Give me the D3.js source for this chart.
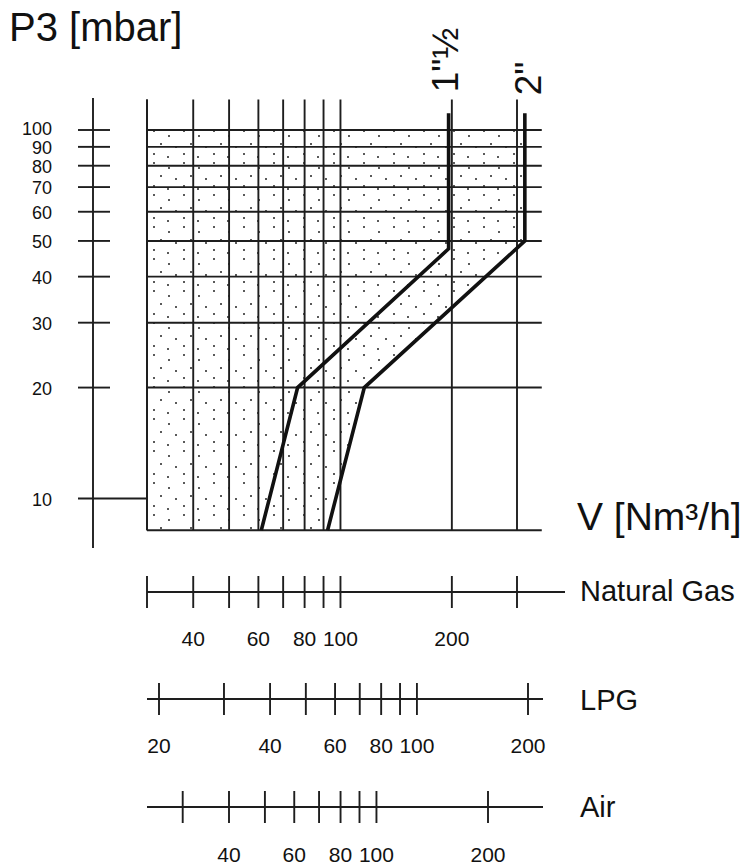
<!DOCTYPE html>
<html><head><meta charset="utf-8">
<script src="https://cdn.jsdelivr.net/npm/d3@7"></script>
<style>
html,body{margin:0;padding:0;background:#fff;}
svg text{font-family:"Liberation Sans",Arial,sans-serif;fill:#111;}
</style></head>
<body>
<svg id="chart" width="752" height="868"></svg>
<script>
// ---------- data ----------
const pressureTicks = [10, 20, 30, 40, 50, 60, 70, 80, 90, 100];   // mbar
const pressureGrid = [20, 30, 40, 50, 60, 70, 80, 90, 100];
const pressureRange = [8.2, 121];                                  // bottom / top of grid (mbar)
const flowGrid = [30, 40, 50, 60, 70, 80, 90, 100, 200, 300];     // Natural gas Nm3/h
const flowRange = [30, 350];
const curveNames = ['1"½', '2"'];
const curve1_5 = [{v:196,p:111},{v:196,p:47.6},{v:76.6,p:20},{v:61.1,p:8.2}];
const curve2 = [{v:315,p:111},{v:315,p:50},{v:116,p:20},{v:92.3,p:8.2}];
const shadeTop = 100;
const ngTicks = [30, 40, 50, 60, 70, 80, 90, 100, 200, 300];
const ngLabels = [40, 60, 80, 100, 200];
const lpgTicks = [20, 30, 40, 50, 60, 70, 80, 90, 100, 200];
const lpgLabels = [20, 40, 60, 80, 100, 200];
const airTicks = [30, 40, 50, 60, 70, 80, 90, 100, 200];
const airLabels = [40, 60, 80, 100, 200];

// ---------- scales ----------
const x = d3.scaleLog().domain([30, 300]).range([147, 517]);
const y = d3.scaleLog().domain([10, 100]).range([498.5, 130]);
const xLpg = d3.scaleLog().domain([20, 200]).range([159, 528]);
const xAir = d3.scaleLog().domain([40, 200]).range([229, 488]);

const svg = d3.select('#chart');
const ink = '#1e1e1e';

// dotted pattern
const defs = svg.append('defs');
const pat = defs.append('pattern').attr('id','dots').attr('patternUnits','userSpaceOnUse')
  .attr('width',30).attr('height',32);
[[4,3],[19,8],[11,16],[26,19],[4,26],[18,29]].forEach(([a,b])=>
  pat.append('circle').attr('cx',a).attr('cy',b).attr('r',1).attr('fill','#222'));
defs.append('clipPath').attr('id','shadeClip').append('rect')
  .attr('x', x(flowRange[0])).attr('y', y(shadeTop))
  .attr('width', x(flowRange[1]) - x(flowRange[0]))
  .attr('height', y(pressureRange[0]) - y(shadeTop));

// shaded region left of 2" curve
const area = d3.area().x0(x(flowRange[0])).x1(d=>x(d.v)).y(d=>y(d.p));
svg.append('path').datum(curve2).attr('d', area).attr('fill','url(#dots)')
  .attr('clip-path','url(#shadeClip)');

// grid
const g = svg.append('g').attr('stroke', ink).attr('stroke-width', 1.9);
g.selectAll('line.v').data(flowGrid).join('line')
  .attr('x1', d=>x(d)).attr('x2', d=>x(d))
  .attr('y1', y(pressureRange[1])).attr('y2', y(pressureRange[0]));
g.append('line').attr('x1', x(flowRange[0])).attr('x2', x(flowRange[0]))
  .attr('y1', y(pressureRange[1])).attr('y2', y(pressureRange[0]));
g.selectAll('line.h').data(pressureGrid).join('line')
  .attr('x1', x(flowRange[0])).attr('x2', x(flowRange[1]))
  .attr('y1', d=>y(d)).attr('y2', d=>y(d));
g.append('line').attr('x1', x(flowRange[0])).attr('x2', x(flowRange[1]))
  .attr('y1', y(pressureRange[0])).attr('y2', y(pressureRange[0]));

// curves
const line = d3.line().x(d=>x(d.v)).y(d=>y(d.p));
[curve1_5, curve2].forEach(c=>{
  svg.append('path').datum(c).attr('d', line).attr('fill','none')
    .attr('stroke','#111').attr('stroke-width',3.6).attr('stroke-linejoin','miter');
});
// curve labels (rotated)
[[curve1_5, curveNames[0]], [curve2, curveNames[1]]].forEach(([c, name], i)=>{
  const bx = x(c[0].v) + (i===0 ? 9 : 16);
  const by = y(c[0].p) - (i===0 ? 21 : 18);
  svg.append('text').attr('transform', `translate(${bx},${by}) rotate(-90)`)
    .attr('font-size', 37).text(name);
});

// Y axis
const ax = 93;
svg.append('line').attr('x1',ax).attr('x2',ax).attr('y1',98).attr('y2',548)
  .attr('stroke',ink).attr('stroke-width',1.9);
svg.selectAll('line.yt').data(pressureTicks).join('line')
  .attr('x1',78).attr('x2', d=> d===10 ? x(flowRange[0]) : 110)
  .attr('y1',d=>y(d)).attr('y2',d=>y(d)).attr('stroke',ink).attr('stroke-width',1.9);
// label baselines, nudged upward where they would collide
const labelGap = 19;
const sortedTicks = pressureTicks.slice().sort((a,b)=>a-b);
const base = {};
sortedTicks.forEach((d,i)=>{
  let b = y(d) + 7;
  if (i>0) b = Math.min(b, base[sortedTicks[i-1]] - labelGap);
  base[d] = b;
});
svg.selectAll('text.yl').data(pressureTicks).join('text')
  .attr('x',52).attr('y',d=>base[d]).attr('text-anchor','end').attr('font-size',18)
  .text(d=>d);

// titles
svg.append('text').attr('x',9).attr('y',41).attr('font-size',40).text('P3 [mbar]');
svg.append('text').attr('x',577).attr('y',530).attr('font-size',39).text('V [Nm³/h]');

// bottom axes
function scaleAxis(sc, ticks, labels, yLine, x2, name, yName, yLab){
  svg.append('line').attr('x1',147).attr('x2',x2).attr('y1',yLine).attr('y2',yLine)
    .attr('stroke',ink).attr('stroke-width',1.9);
  svg.selectAll(null).data(ticks).join('line')
    .attr('x1',d=>sc(d)).attr('x2',d=>sc(d)).attr('y1',yLine-16).attr('y2',yLine+16)
    .attr('stroke',ink).attr('stroke-width',1.9);
  svg.selectAll(null).data(labels).join('text')
    .attr('x',d=>sc(d)).attr('y',yLab).attr('text-anchor','middle').attr('font-size',21)
    .text(d=>d);
  svg.append('text').attr('x',580).attr('y',yName).attr('font-size',29).text(name);
}
scaleAxis(x, ngTicks, ngLabels, 592, 565, 'Natural Gas', 601, 646);
scaleAxis(xLpg, lpgTicks, lpgLabels, 699, 543, 'LPG', 710, 753);
scaleAxis(xAir, airTicks, airLabels, 807, 543, 'Air', 817, 862);
</script>
</body></html>
